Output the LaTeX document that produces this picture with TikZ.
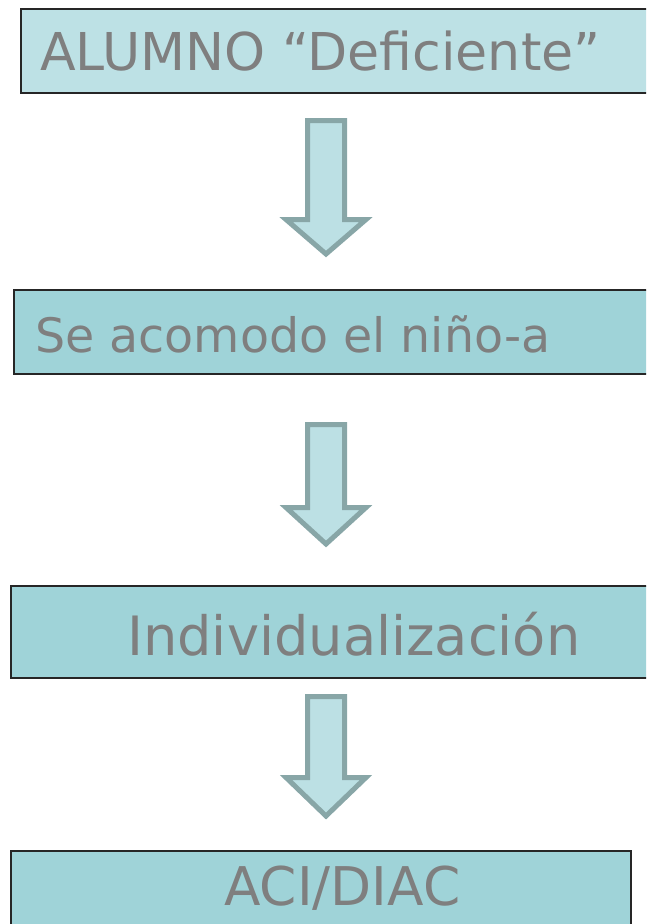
\documentclass[tikz,border=0pt]{standalone}
\usepackage{fontspec}
\setmainfont{DejaVu Sans}
\usepackage{graphicx}
\definecolor{boxlight}{HTML}{BDE1E5}
\definecolor{boxdark}{HTML}{9FD3D8}
\definecolor{arrowfill}{HTML}{BCE0E4}
\definecolor{arrowline}{HTML}{88A6A7}
\definecolor{txtgray}{HTML}{7F7F7F}
\tikzset{
  flowbox/.style={draw=black!85, line width=2pt, minimum height=#1, inner sep=0pt, anchor=north west},
  flowtext/.style={text=txtgray, inner sep=0pt, anchor=base west},
  blockarrow/.style={draw=arrowline, fill=arrowfill, line width=5pt, line join=miter}
}
\newcommand{\blockarr}[5]{% name, xc, top, headstart, tip
  \coordinate (#1) at (#2,#3);
  \path[blockarrow] ($(#1)+(-18.5,0)$) -- ($(#1)+(18.5,0)$) -- (#2+18.5,#4) -- (#2+40,#4) -- (#2,#5) -- (#2-40,#4) -- (#2-18.5,#4) -- cycle;
}
\usetikzlibrary{calc}
\begin{document}
\begin{tikzpicture}[x=1pt,y=-1pt]
\useasboundingbox (0,0) rectangle (646,924);
\clip (0,0) rectangle (646,924);
% boxes
\node[flowbox=84pt, fill=boxlight, minimum width=640pt] (b1) at (20,8) {};
\node[flowbox=84pt, fill=boxdark, minimum width=650pt] (b2) at (13,289) {};
\node[flowbox=92pt, fill=boxdark, minimum width=650pt] (b3) at (10,585) {};
\node[flowbox=90pt, fill=boxdark, minimum width=620pt] (b4) at (10,850) {};
% texts
\node[flowtext] (t1) at (40,70) {\resizebox{560pt}{!}{ALUMNO “Deficiente”}};
\node[flowtext] (t2) at (35,352) {\resizebox{515pt}{!}{Se acomodo el niño-a}};
\node[flowtext] (t3) at (127,655) {\resizebox{453pt}{!}{Individualización}};
\node[flowtext] (t4) at (224,905) {\resizebox{236pt}{!}{ACI/DIAC}};
% arrows
\blockarr{a1}{326}{120.5}{219.5}{254}
\blockarr{a2}{326}{424.5}{507.5}{544}
\blockarr{a3}{326}{696.5}{777.5}{816}
\end{tikzpicture}
\end{document}
